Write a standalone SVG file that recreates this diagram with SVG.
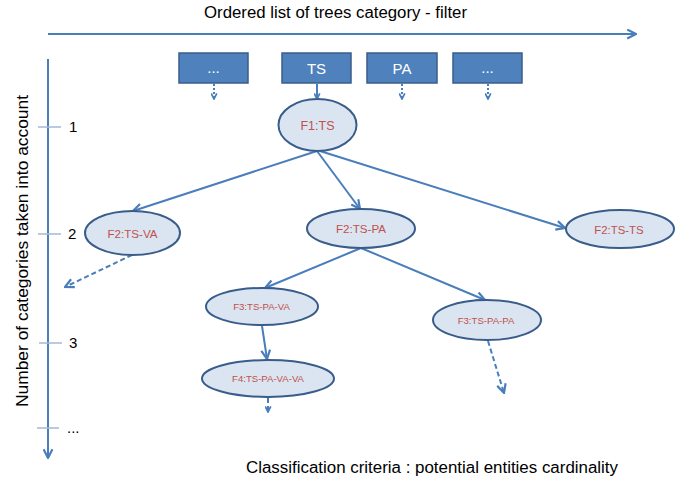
<svg xmlns="http://www.w3.org/2000/svg" width="692" height="482" viewBox="0 0 692 482">
  <defs>
    <marker id="ah" viewBox="0 0 10 10" refX="9" refY="5" markerWidth="11" markerHeight="11" markerUnits="userSpaceOnUse" orient="auto">
      <path d="M1,1 L9,5 L1,9" fill="none" stroke="#4a7ebb" stroke-width="2"/>
    </marker>
    <marker id="ahs" viewBox="0 0 10 10" refX="9" refY="5" markerWidth="7" markerHeight="7" markerUnits="userSpaceOnUse" orient="auto">
      <path d="M1,1 L9,5 L1,9" fill="none" stroke="#4a7ebb" stroke-width="2.5"/>
    </marker>
  </defs>
  <style>
    .t { font-family: "Liberation Sans", Arial, sans-serif; fill: #000; }
    .box rect { fill: #4f81bd; stroke: #385d8a; stroke-width: 1.5; }
    .box text { font-family: "Liberation Sans", Arial, sans-serif; fill: #fff; font-size: 15px; text-anchor: middle; }
    .node ellipse { fill: #dbe5f1; stroke: #385d8a; stroke-width: 2; }
    .node text { font-family: "Liberation Sans", Arial, sans-serif; fill: #c0504d; text-anchor: middle; }
    .c { fill: none; stroke: #4a7ebb; stroke-width: 2; }
    .dash { stroke-dasharray: 5 3; }
    .dot { stroke-dasharray: 2 2; }
    .tick { stroke: #a3b9d6; stroke-width: 1.5; }
  </style>

  <!-- axes -->
  <g id="axes">
    <line class="c" x1="48" y1="34" x2="636" y2="34" marker-end="url(#ah)"/>
    <line class="c" x1="48" y1="59" x2="48" y2="458" marker-end="url(#ah)"/>
    <line class="tick" x1="38" y1="127" x2="61" y2="127"/>
    <line class="tick" x1="38" y1="234" x2="61" y2="234"/>
    <line class="tick" x1="39" y1="343" x2="62" y2="343"/>
    <line class="tick" x1="37" y1="428" x2="59" y2="428"/>
  </g>

  <text class="t" x="335.5" y="18" font-size="16" text-anchor="middle" textLength="263" lengthAdjust="spacingAndGlyphs">Ordered list of trees category - filter</text>
  <text class="t" transform="translate(28,251) rotate(-90)" font-size="17" text-anchor="middle" textLength="312" lengthAdjust="spacingAndGlyphs">Number of categories taken into account</text>
  <text class="t" x="69" y="132" font-size="15">1</text>
  <text class="t" x="68" y="239" font-size="15">2</text>
  <text class="t" x="69" y="348" font-size="15">3</text>
  <text class="t" x="67" y="433" font-size="15">...</text>
  <text class="t" x="432" y="473" font-size="16" text-anchor="middle" textLength="372" lengthAdjust="spacingAndGlyphs">Classification criteria : potential entities cardinality</text>

  <!-- category boxes -->
  <g id="box-dots1" class="box"><rect x="179" y="53" width="69" height="30"/><text x="213.5" y="73">...</text></g>
  <g id="box-TS" class="box"><rect x="282" y="53" width="69" height="30"/><text x="316.5" y="73.5">TS</text></g>
  <g id="box-PA" class="box"><rect x="367" y="53" width="70" height="30"/><text x="402" y="73.5">PA</text></g>
  <g id="box-dots2" class="box"><rect x="453" y="53" width="69" height="30"/><text x="487.5" y="73">...</text></g>

  <!-- connectors -->
  <g id="connectors">
    <line class="c dot" x1="214" y1="84" x2="214" y2="99" marker-end="url(#ahs)"/>
    <line class="c" x1="317" y1="84" x2="317" y2="99" marker-end="url(#ahs)"/>
    <line class="c dot" x1="402" y1="84" x2="402" y2="99" marker-end="url(#ahs)"/>
    <line class="c dot" x1="488" y1="84" x2="488" y2="99" marker-end="url(#ahs)"/>

    <line class="c" x1="317" y1="151" x2="133" y2="211" marker-end="url(#ah)"/>
    <line class="c" x1="317" y1="151" x2="360" y2="209" marker-end="url(#ah)"/>
    <line class="c" x1="320" y1="151" x2="565" y2="228" marker-end="url(#ah)"/>

    <line class="c dash" x1="132" y1="255" x2="65" y2="287" marker-end="url(#ah)"/>

    <line class="c" x1="361" y1="248" x2="265" y2="288" marker-end="url(#ah)"/>
    <line class="c" x1="361" y1="248" x2="485" y2="300" marker-end="url(#ah)"/>

    <line class="c" x1="262" y1="326" x2="267" y2="359" marker-end="url(#ah)"/>
    <line class="c dash" x1="268" y1="398" x2="268" y2="412" marker-end="url(#ahs)"/>
    <line class="c dash" x1="488" y1="341" x2="504" y2="393" marker-end="url(#ah)"/>
  </g>

  <!-- nodes -->
  <g id="F1-TS" class="node"><ellipse cx="317.5" cy="125" rx="39" ry="26"/><text x="317.5" y="130" font-size="12.5">F1:TS</text></g>
  <g id="F2-TS-VA" class="node"><ellipse cx="132.5" cy="233" rx="47.5" ry="22"/><text x="132.5" y="237.5" font-size="11.6">F2:TS-VA</text></g>
  <g id="F2-TS-PA" class="node"><ellipse cx="361" cy="228.5" rx="54" ry="19.5"/><text x="361" y="233" font-size="11.6">F2:TS-PA</text></g>
  <g id="F2-TS-TS" class="node"><ellipse cx="620" cy="229" rx="54" ry="19"/><text x="619" y="233.5" font-size="11.4">F2:TS-TS</text></g>
  <g id="F3-TS-PA-VA" class="node"><ellipse cx="262" cy="306.5" rx="56" ry="18.5"/><text x="261.5" y="310" font-size="9.6">F3:TS-PA-VA</text></g>
  <g id="F3-TS-PA-PA" class="node"><ellipse cx="487" cy="320" rx="54" ry="20"/><text x="486" y="323.5" font-size="9.6">F3:TS-PA-PA</text></g>
  <g id="F4-TS-PA-VA-VA" class="node"><ellipse cx="268" cy="378.5" rx="66" ry="18.5"/><text x="268" y="382" font-size="9.6">F4:TS-PA-VA-VA</text></g>
</svg>
